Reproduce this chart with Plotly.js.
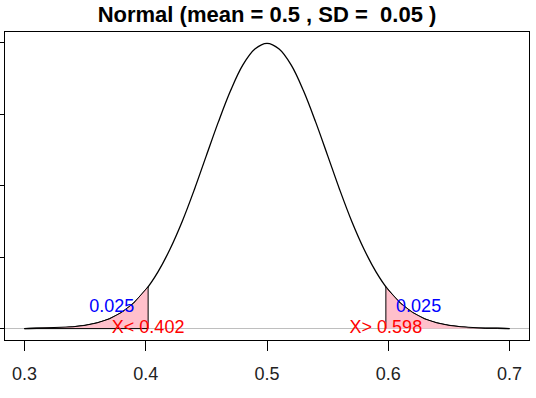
<!DOCTYPE html>
<html>
<head>
<meta charset="utf-8">
<script src="https://cdn.plot.ly/plotly-3.0.1.min.js"></script>
<style>html,body{margin:0;padding:0;background:#fff;}#chart{width:536px;height:398px;}</style>
</head>
<body>
<div id="chart"></div>
<script>
// Density curve (Normal, mean 0.5, SD 0.05)
var curveX = [0.30,0.31,0.32,0.33,0.34,0.35,0.36,0.37,0.38,0.39,0.40,0.41,0.42,0.43,0.44,0.45,0.46,0.47,0.48,0.49,0.50,
              0.51,0.52,0.53,0.54,0.55,0.56,0.57,0.58,0.59,0.60,0.61,0.62,0.63,0.64,0.65,0.66,0.67,0.68,0.69,0.70];
var curveY = [0.00,0.01,0.01,0.02,0.05,0.09,0.16,0.27,0.45,0.71,1.08,1.58,2.22,2.99,3.88,4.84,5.79,6.66,7.37,7.82,7.98,
              7.82,7.37,6.66,5.79,4.84,3.88,2.99,2.22,1.58,1.08,0.71,0.45,0.27,0.16,0.09,0.05,0.02,0.01,0.01,0.00];
// Cut-off points and the curve height there
var cutX = [0.402, 0.598];
var cutY = [1.17, 1.17];
// Labels
var probText = ['0.025', '0.025'];
var probX = [0.372, 0.625];
var probY = [0.6, 0.6];
var cutText = ['X< 0.402', 'X> 0.598'];
var xTicks = [0.3, 0.4, 0.5, 0.6, 0.7];
var xTickText = ['0.3', '0.4', '0.5', '0.6', '0.7'];
var yTicks = [0, 2, 4, 6, 8];

// Build tail polygons from the arrays
var lx = [], ly = [], rx = [], ry = [];
for (var i = 0; i < curveX.length; i++) {
  if (curveX[i] <= cutX[0]) { lx.push(curveX[i]); ly.push(curveY[i]); }
}
lx.push(cutX[0], cutX[0], curveX[0]); ly.push(cutY[0], 0, 0);
rx.push(cutX[1], cutX[1]); ry.push(0, cutY[1]);
for (var j = 0; j < curveX.length; j++) {
  if (curveX[j] >= cutX[1]) { rx.push(curveX[j]); ry.push(curveY[j]); }
}
rx.push(curveX[curveX.length - 1]); ry.push(0);

var traces = [
  {x: curveX, y: curveY, mode: 'lines', line: {color: '#000', width: 1.3, shape: 'spline'}, hoverinfo: 'skip'},
  {x: lx, y: ly, mode: 'lines', fill: 'toself', fillcolor: '#FFC0CB', line: {color: '#000', width: 1}, hoverinfo: 'skip'},
  {x: rx, y: ry, mode: 'lines', fill: 'toself', fillcolor: '#FFC0CB', line: {color: '#000', width: 1}, hoverinfo: 'skip'},
  {x: probX, y: probY, mode: 'text', text: probText, textposition: 'middle center',
   textfont: {family: 'Liberation Sans, Arial, sans-serif', size: 18, color: '#0000FF'}, hoverinfo: 'skip'},
  {x: cutX, y: [0, 0], mode: 'text', text: cutText, textposition: 'middle center',
   textfont: {family: 'Liberation Sans, Arial, sans-serif', size: 18, color: '#FF0000'}, hoverinfo: 'skip'}
];

var layout = {
  width: 536, height: 398,
  margin: {l: 5, r: 7, t: 32, b: 58},
  paper_bgcolor: '#fff', plot_bgcolor: '#fff',
  showlegend: false,
  font: {family: 'Liberation Sans, Arial, sans-serif', color: '#000'},
  title: {text: '<b>Normal (mean = 0.5 , SD =\u00a0 0.05 )</b>', x: 0.5, xref: 'paper', y: 0.963, yanchor: 'middle',
          font: {family: 'Liberation Sans, Arial, sans-serif', size: 22, color: '#000'}},
  xaxis: {range: [0.284, 0.716], tickvals: xTicks, ticktext: xTickText, ticks: 'outside', ticklen: 10,
          tickcolor: '#000', tickwidth: 1, showline: true, mirror: true, linecolor: '#000', linewidth: 1,
          showgrid: false, zeroline: false, tickfont: {size: 18, color: '#222'}, ticklabelstandoff: 7},
  yaxis: {range: [-0.319, 8.298], tickvals: yTicks, showticklabels: false, ticks: 'outside', ticklen: 5,
          tickcolor: '#000', tickwidth: 1, showline: true, mirror: true, linecolor: '#000', linewidth: 1,
          showgrid: false, zeroline: true, zerolinecolor: '#BEBEBE', zerolinewidth: 1}
};

Plotly.newPlot('chart', traces, layout, {displayModeBar: false, staticPlot: true});
</script>
</body>
</html>
